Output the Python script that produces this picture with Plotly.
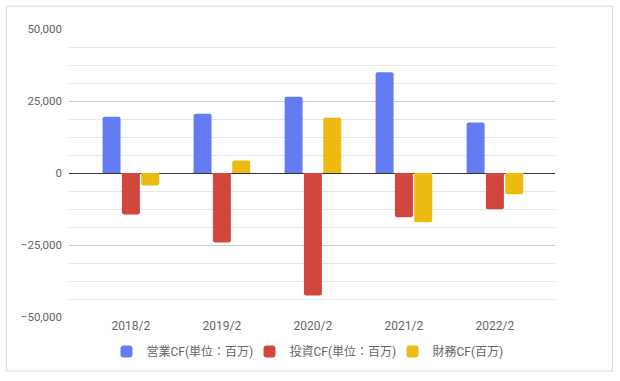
import plotly.graph_objects as go

categories = ["2018/2", "2019/2", "2020/2", "2021/2", "2022/2"]
operating_cf = [19500, 20600, 26500, 35000, 17500]
investing_cf = [-14400, -24100, -42500, -15400, -12600]
financing_cf = [-4300, 4300, 19200, -17100, -7400]

series_names = ["営業CF(単位：百万)", "投資CF(単位：百万)", "財務CF(百万)"]
series_colors = ["#637cf2", "#d1473e", "#ecba11"]
series_values = [operating_cf, investing_cf, financing_cf]

FONT = "Roboto, 'Noto Sans CJK JP', sans-serif"
TEXT = "#666666"

fig = go.Figure()
for name, color, vals in zip(series_names, series_colors, series_values):
    fig.add_trace(go.Bar(
        x=categories, y=vals, name=name,
        marker=dict(color=color, line=dict(width=0), cornerradius=2),
        hoverinfo="skip",
    ))

fig.update_layout(
    width=620, height=381,
    margin=dict(l=69, r=65, t=29, b=63.5, pad=0),
    paper_bgcolor="white", plot_bgcolor="white",
    barmode="group", bargap=0.363, bargroupgap=0.07,
    font=dict(family=FONT, size=11, color=TEXT),
    showlegend=True,
    legend=dict(orientation="h", x=0.5185, xanchor="center", y=-0.12, yanchor="middle",
                font=dict(family=FONT, size=12, color=TEXT),
                entrywidth=98, entrywidthmode="pixels",
                itemsizing="constant", traceorder="normal"),
    xaxis=dict(type="category", range=[-0.68, 4.66], showgrid=False, showline=False,
               zeroline=False, ticks="", tickfont=dict(size=12, color=TEXT)),
    yaxis=dict(range=[-50000, 50000], tickvals=[-50000, -25000, 0, 25000, 50000],
               tickformat=",", showgrid=True, gridcolor="#cccccc", gridwidth=1,
               zeroline=True, zerolinecolor="#333333", zerolinewidth=1,
               showline=False, ticks="", ticklabelstandoff=6,
               minor=dict(tickmode="linear", tick0=0, dtick=6250, showgrid=True,
                          gridcolor="#e6e6e6", gridwidth=1, ticks=""),
               tickfont=dict(size=11.5, color=TEXT)),
    shapes=[dict(type="rect", xref="paper", yref="paper",
                 x0=(6.5 - 69) / 486, x1=(612.5 - 69) / 486,
                 y0=(317.5 - 371.5) / 288.2, y1=(317.5 - 6.5) / 288.2,
                 line=dict(color="#d9d9d9", width=1), fillcolor="rgba(0,0,0,0)", layer="below")],
)

fig.write_html("out.html", config={"displayModeBar": False},
               post_script="document.body.style.margin='0';document.body.style.overflow='hidden';")
